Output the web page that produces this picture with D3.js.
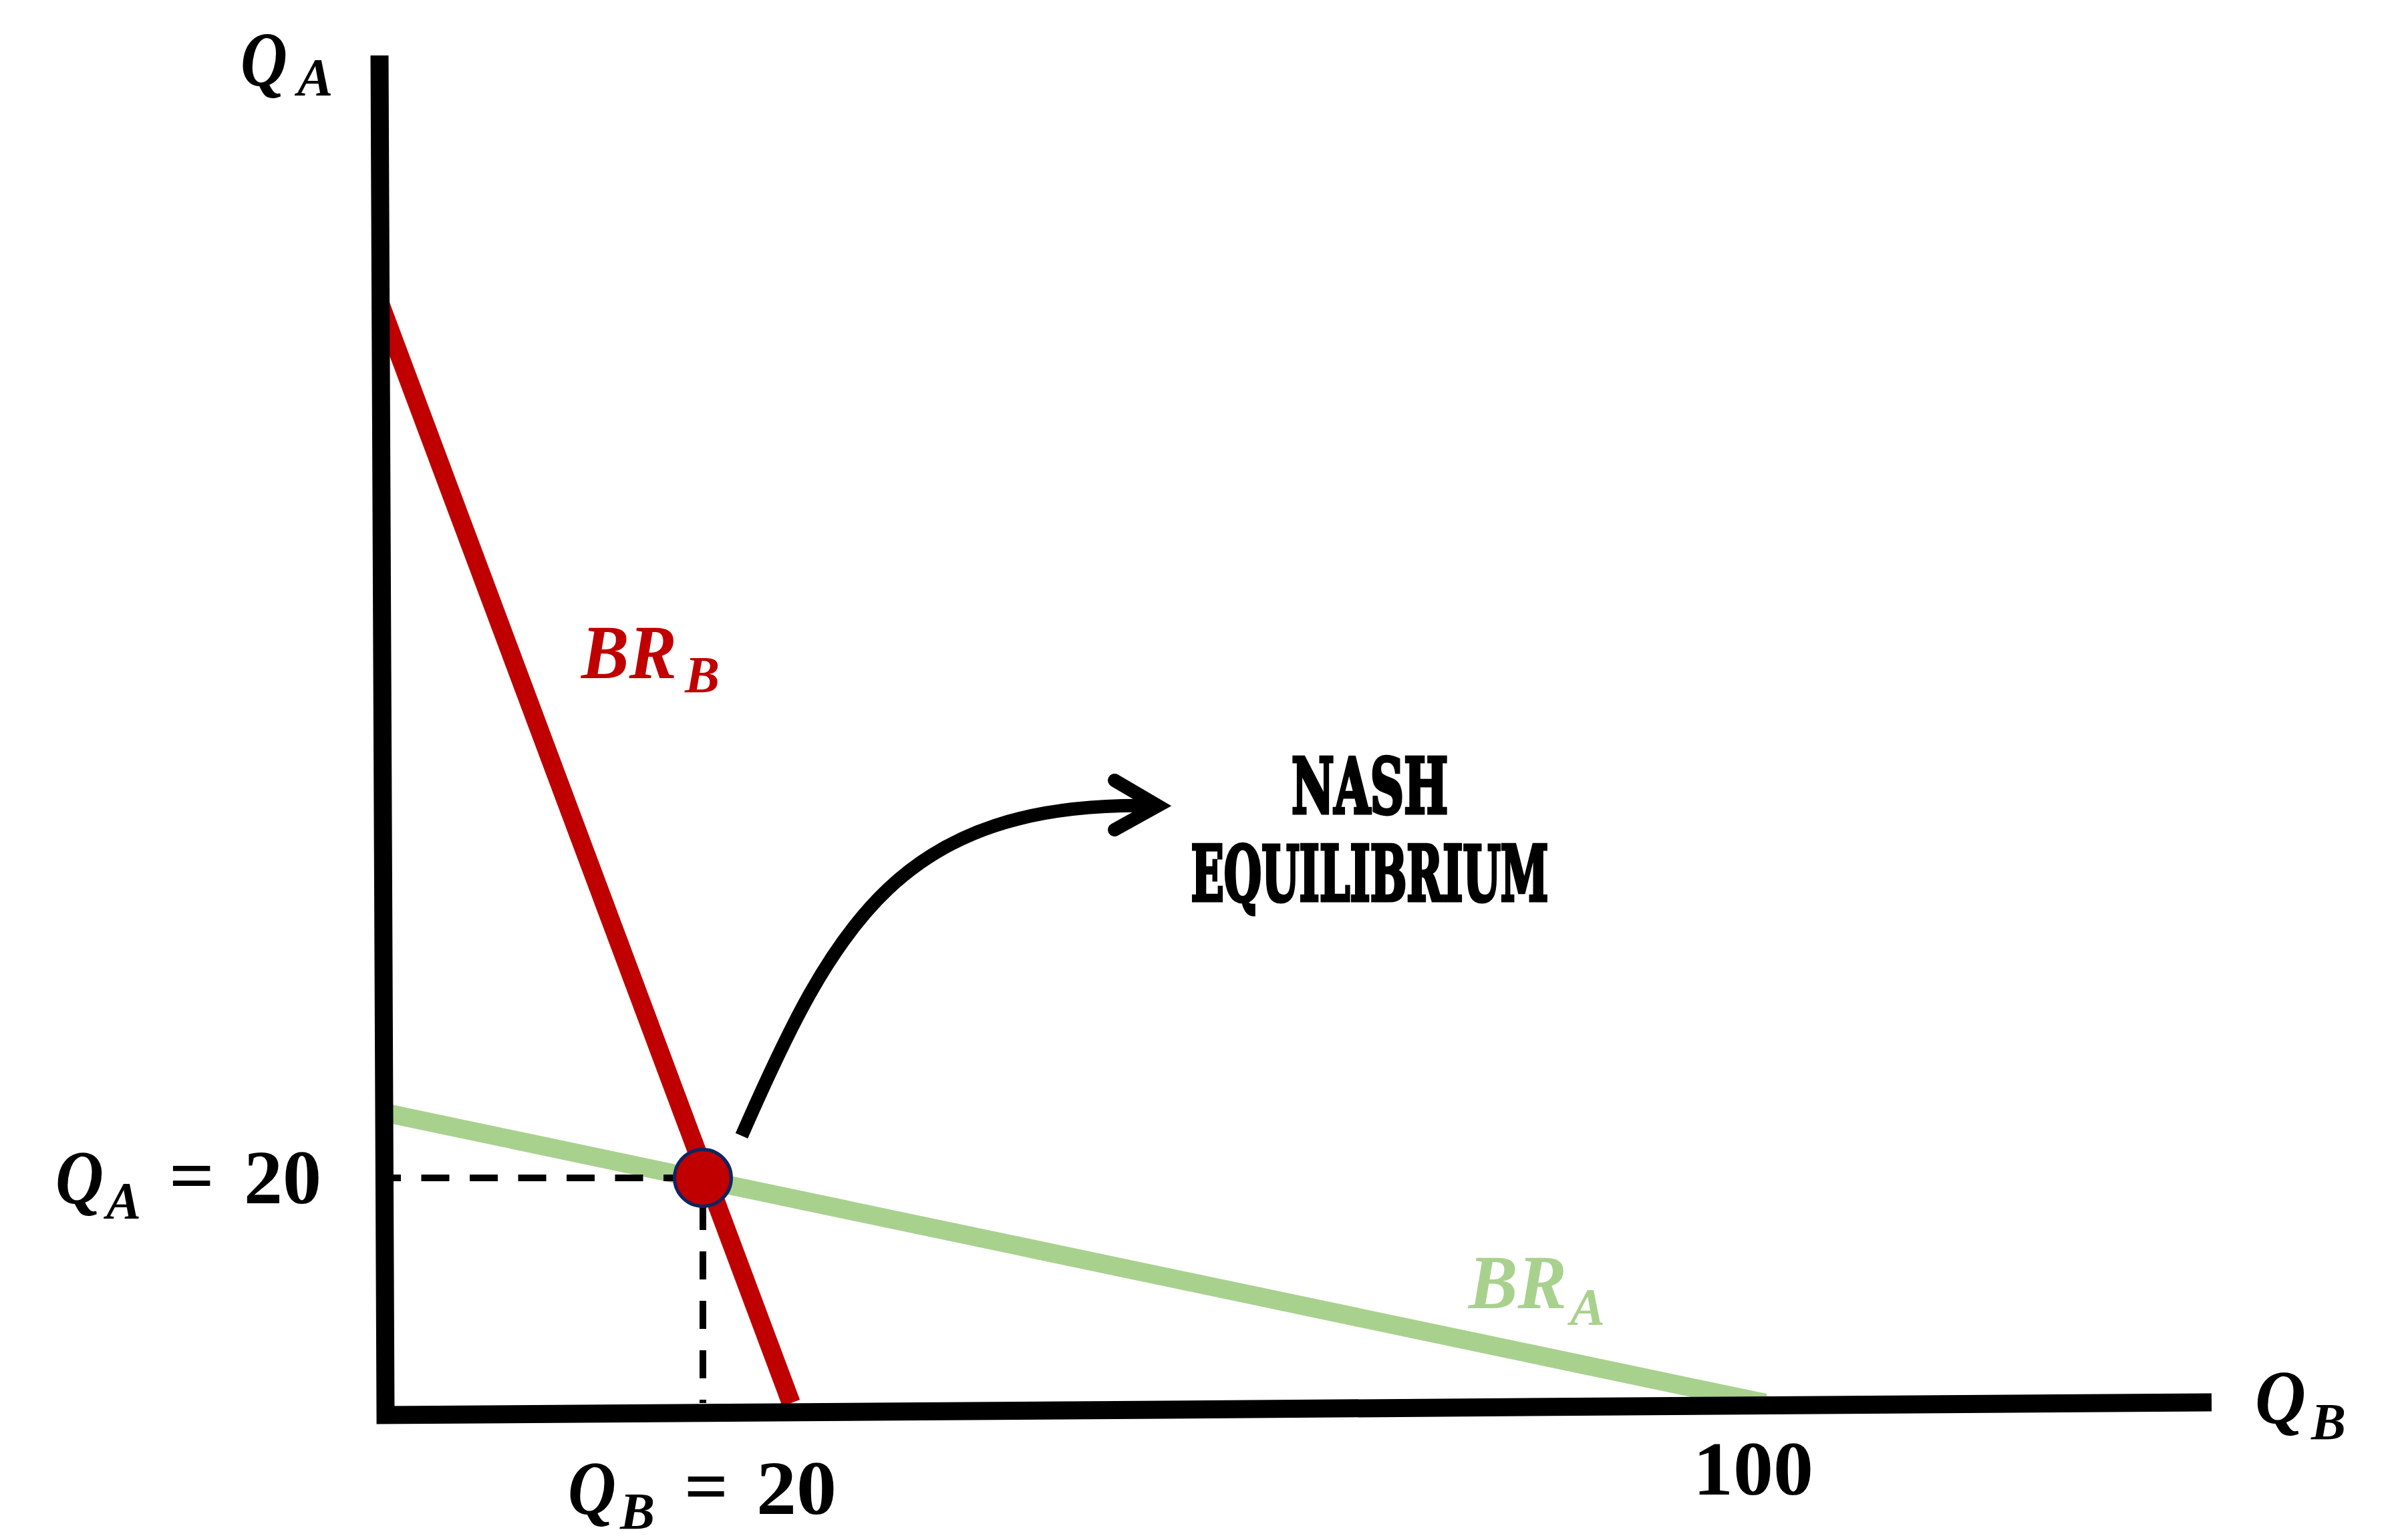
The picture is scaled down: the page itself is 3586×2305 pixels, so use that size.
<!DOCTYPE html>
<html><head><meta charset="utf-8">
<script src="https://cdn.jsdelivr.net/npm/d3@7"></script>
<style>html,body{margin:0;padding:0;background:#fff;} svg{display:block;}</style>
</head><body>
<svg id="chart" width="3586" height="2305"></svg>
<script>
// ---------------- data ----------------
// Best response of firm A:  Q_A = 25 - Q_B / 4   (endpoints)
const brA_QB = [0, 100];
const brA_QA = [25, 0];
// Best response of firm B:  Q_B = 25 - Q_A / 4   (endpoints)
const brB_QB = [0, 25];
const brB_QA = [100, 0];
// Nash equilibrium
const nashQB = [20];
const nashQA = [20];
// Tick values / labels
const xTickValues = [20, 100];
const yTickValues = [20];
const axisNames = ["Q", "A", "Q", "B"];
const seriesNames = ["BR_A", "BR_B"];
const annotationLines = ["NASH", "EQUILIBRIUM"];

// ---------------- layout ----------------
const W = 3586, H = 2305;
const RED = "#C00000", GREEN = "#A9D18E", NAVY = "#0E2660";
const MATH = "'Liberation Serif','DejaVu Serif',serif";
const WEST = "'DejaVu Serif Condensed','DejaVu Serif',serif";

const svg = d3.select("#chart");
svg.append("rect").attr("width", W).attr("height", H).attr("fill", "#fff");

// schematic (not-to-scale) diagram: piecewise-linear scales
const x = d3.scaleLinear().domain([0, 20, 25, 100]).range([569, 1052, 1184, 2642]);
const y = d3.scaleLinear().domain([0, 20, 25, 100]).range([2100, 1763, 1664, 455]);

const line = d3.line().x(d => x(d[0])).y(d => y(d[1]));
const brA = d3.zip(brA_QB, brA_QA);
const brB = d3.zip(brB_QB, brB_QA);
const nash = d3.zip(nashQB, nashQA);

// best-response lines
svg.append("path").datum(brA).attr("d", line)
  .attr("fill", "none").attr("stroke", GREEN).attr("stroke-width", 28);
svg.append("path").datum(brB).attr("d", line)
  .attr("fill", "none").attr("stroke", RED).attr("stroke-width", 28);

// dashed guides
nash.forEach(([qb, qa]) => {
  svg.append("path").datum([[0, qa], [qb, qa]]).attr("d", line)
    .attr("stroke", "#000").attr("stroke-width", 10).attr("fill", "none")
    .attr("stroke-dasharray", "42,30.5").attr("stroke-dashoffset", 11);
  svg.append("path").datum([[qb, qa], [qb, 0]]).attr("d", line)
    .attr("stroke", "#000").attr("stroke-width", 10).attr("fill", "none")
    .attr("stroke-dasharray", "42,32").attr("stroke-dashoffset", 38);
});

// axes (slightly hand-drawn frame as in the original)
const axisTop = [568, 83], axisCorner = [577, 2118], axisRight = [3310, 2099];
svg.append("path")
  .attr("d", d3.line()([axisTop, axisCorner, axisRight]))
  .attr("fill", "none").attr("stroke", "#000").attr("stroke-width", 27)
  .attr("stroke-linejoin", "miter").attr("stroke-linecap", "butt");

// Nash point
svg.selectAll("circle.nash").data(nash).join("circle").attr("class", "nash")
  .attr("cx", d => x(d[0])).attr("cy", d => y(d[1])).attr("r", 42.5)
  .attr("fill", RED).attr("stroke", NAVY).attr("stroke-width", 5);

// curved arrow (annotation anchored on the Nash point)
const nx = x(nashQB[0]), ny = y(nashQA[0]);
const cp = d3.path();
cp.moveTo(nx + 58, ny - 63);
cp.bezierCurveTo(nx + 198, ny - 383, nx + 298, ny - 563, nx + 670, ny - 557);
svg.append("path").attr("d", cp.toString()).attr("fill", "none")
  .attr("stroke", "#000").attr("stroke-width", 20).attr("stroke-linecap", "butt");
svg.append("path")
  .attr("d", d3.line()([[nx + 616, ny - 595], [nx + 681, ny - 557], [nx + 616, ny - 521]]))
  .attr("fill", "none").attr("stroke", "#000").attr("stroke-width", 20)
  .attr("stroke-linejoin", "miter").attr("stroke-linecap", "round");

// ---------------- text helpers ----------------
function piece(g, txt, px, py, size, o = {}) {
  const t = g.append("text").attr("x", px).attr("y", py)
    .attr("font-family", o.family || MATH).attr("font-size", size)
    .attr("font-weight", "bold").attr("font-style", o.italic ? "italic" : "normal")
    .attr("fill", o.fill || "#000").attr("text-anchor", o.anchor || "start").text(txt);
  if (o.len) t.attr("textLength", o.len).attr("lengthAdjust", "spacingAndGlyphs");
  if (o.thick) t.attr("stroke", o.fill || "#000").attr("stroke-width", o.thick)
    .attr("stroke-linejoin", "miter");
  return t;
}
// symbol with subscript as a single text element
function subText(g, main, sub, px, py, size, subSize, subDx, subDy, o = {}) {
  const t = g.append("text").attr("font-family", MATH).attr("font-weight", "bold")
    .attr("font-style", "italic").attr("fill", o.fill || "#000");
  const m = t.append("tspan").attr("x", px).attr("y", py).attr("font-size", size).text(main);
  if (o.len) m.attr("textLength", o.len).attr("lengthAdjust", "spacingAndGlyphs");
  t.append("tspan").attr("x", px + subDx).attr("y", py + subDy).attr("font-size", subSize).text(sub);
  return t;
}

// axis titles
subText(svg, axisNames[0], axisNames[1], 360, 128, 116, 80, 85, 15, { len: 70 });
subText(svg, axisNames[2], axisNames[3], 3375, 2130, 115, 78, 84, 24, { len: 76 });

// y tick label  Q_A = 20
yTickValues.forEach(v => {
  const g = svg.append("g").attr("transform", `translate(481,${y(v) + 38})`);
  subText(g, "Q", "A", -398, 0, 115, 78, 76, 22, { len: 72 });
  piece(g, "=", -228, -4, 113, { len: 68 });
  piece(g, String(v), 0, 0, 115, { anchor: "end", len: 116 });
});

// x tick labels
xTickValues.forEach(v => {
  if (v === 20) {
    const g = svg.append("g").attr("transform", `translate(${x(v)},2266)`);
    subText(g, "Q", "B", -202, 0, 115, 78, 78, 22, { len: 72 });
    piece(g, "=", -28, -4, 113, { len: 66 });
    piece(g, String(v), 80, 0, 115, { len: 120 });
  } else {
    piece(svg, String(v), x(v) - 18, 2237, 115, { anchor: "middle", len: 180 });
  }
});

// series labels
subText(svg, "BR", "B", 870, 1015, 115, 78, 155, 21, { fill: RED, len: 143 });
subText(svg, "BR", "A", 2198, 1958, 115, 78, 152, 24, { fill: GREEN, len: 147 });

// annotation
piece(svg, annotationLines[0], 2050, 1217, 115, { family: WEST, anchor: "middle", len: 234, thick: 5 });
piece(svg, annotationLines[1], 2050, 1348, 115, { family: WEST, anchor: "middle", len: 535, thick: 5 });
</script>
</body></html>
